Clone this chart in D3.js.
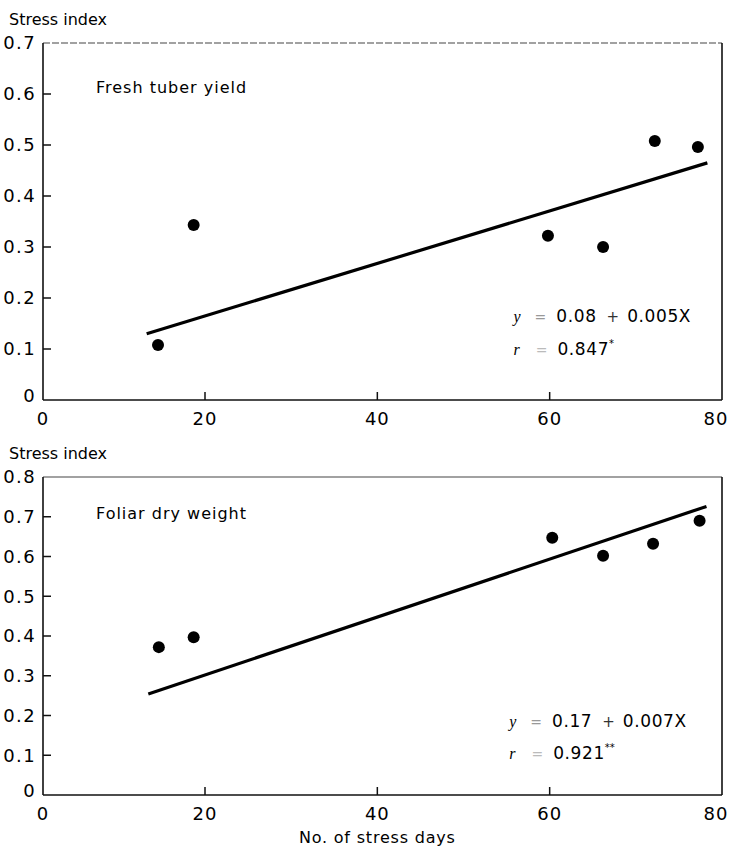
<!DOCTYPE html>
<html>
<head>
<meta charset="utf-8">
<script src="https://cdnjs.cloudflare.com/ajax/libs/d3/7.8.5/d3.min.js"></script>
<style>
  body { margin: 0; background: #fff; }
  svg { display: block; }
  text { font-family: "DejaVu Sans", sans-serif; fill: #000; }
</style>
</head>
<body>
<svg id="chart" width="729" height="849"></svg>
<script>
// ---- data ----
var x_ticks = [0, 20, 40, 60, 80];

var tuber_days = [14.2, 18.6, 59.8, 66.2, 72.2, 77.2];
var tuber_index = [0.108, 0.343, 0.322, 0.300, 0.508, 0.496];
var tuber_fit_days = [12.8, 78.3];
var tuber_fit_index = [0.13, 0.465];
var tuber_ticks = [0, 0.1, 0.2, 0.3, 0.4, 0.5, 0.6, 0.7];

var foliar_days = [14.3, 18.6, 60.3, 66.2, 72.0, 77.4];
var foliar_index = [0.372, 0.397, 0.647, 0.602, 0.632, 0.690];
var foliar_fit_days = [13.0, 78.2];
var foliar_fit_index = [0.254, 0.726];
var foliar_ticks = [0, 0.1, 0.2, 0.3, 0.4, 0.5, 0.6, 0.7, 0.8];

var svg = d3.select("#chart");

// scanned axis is slightly uneven, so the scale is piecewise
var x = d3.scaleLinear().domain([0, 20, 80]).range([43, 205, 722]);

function draw_panel(opt) {
    var y = d3.scaleLinear().domain([0, opt.y_max]).range([opt.bottom, opt.top]);
    var g = svg.append("g");

    // axis title
    g.append("text")
        .attr("x", 9)
        .attr("y", opt.top - 18)
        .attr("font-size", 16)
        .text("Stress index");

    // frame
    g.append("line")
        .attr("x1", x(0)).attr("x2", x(80))
        .attr("y1", y(opt.y_max)).attr("y2", y(opt.y_max))
        .attr("stroke", "#444").attr("stroke-width", 1.2)
        .attr("stroke-dasharray", opt.dash_top ? "7,2" : null);
    g.append("line")
        .attr("x1", x(80)).attr("x2", x(80))
        .attr("y1", y(opt.y_max)).attr("y2", y(0))
        .attr("stroke", "#111").attr("stroke-width", 1.6);
    g.append("line")
        .attr("x1", x(0)).attr("x2", x(0))
        .attr("y1", y(opt.y_max)).attr("y2", y(0))
        .attr("stroke", "#111").attr("stroke-width", 1.6);
    g.append("line")
        .attr("x1", x(0)).attr("x2", x(80))
        .attr("y1", y(0)).attr("y2", y(0))
        .attr("stroke", "#111").attr("stroke-width", 1.6);

    // y ticks (inward)
    var inner_y = opt.ticks.filter(function (d) { return d > 0 && d < opt.y_max; });
    g.selectAll(".ytick").data(inner_y).enter().append("line")
        .attr("x1", x(0)).attr("x2", x(0) + 8)
        .attr("y1", function (d) { return y(d); })
        .attr("y2", function (d) { return y(d); })
        .attr("stroke", "#111").attr("stroke-width", 1.5);

    g.selectAll(".ylab").data(opt.ticks).enter().append("text")
        .attr("x", 36)
        .attr("y", function (d) { return y(d) - (d === 0 ? 4 : 0); })
        .attr("dy", "0.36em")
        .attr("text-anchor", "end")
        .attr("font-size", 18)
        .attr("letter-spacing", 1.4)
        .text(function (d) { return d === 0 ? "0" : d3.format(".1f")(d); });

    // x ticks (inward)
    g.selectAll(".xtick").data(x_ticks.filter(function (d) { return d > 0 && d < 80; }))
        .enter().append("line")
        .attr("x1", function (d) { return x(d); })
        .attr("x2", function (d) { return x(d); })
        .attr("y1", y(0)).attr("y2", y(0) - 8)
        .attr("stroke", "#111").attr("stroke-width", 1.5);

    g.selectAll(".xlab").data(x_ticks).enter().append("text")
        .attr("x", function (d) { return x(d) - (d === 80 ? 6 : 0); })
        .attr("y", y(0) + 25)
        .attr("text-anchor", "middle")
        .attr("font-size", 18)
        .attr("letter-spacing", 1)
        .text(function (d) { return d; });

    // panel label
    g.append("text")
        .attr("x", 96)
        .attr("y", opt.top + opt.label_dy)
        .attr("font-size", 16)
        .attr("letter-spacing", 1)
        .text(opt.label);

    // regression line
    var fit = opt.fit_days.map(function (d, i) { return [d, opt.fit_index[i]]; });
    g.append("path")
        .datum(fit)
        .attr("d", d3.line().x(function (d) { return x(d[0]); }).y(function (d) { return y(d[1]); }))
        .attr("stroke", "#000").attr("stroke-width", 3.2).attr("fill", "none");

    // points
    var pts = opt.days.map(function (d, i) { return [d, opt.index[i]]; });
    g.selectAll(".pt").data(pts).enter().append("circle")
        .attr("cx", function (d) { return x(d[0]); })
        .attr("cy", function (d) { return y(d[1]); })
        .attr("r", 6)
        .attr("fill", "#000");

    // equation
    var ex = x(opt.eq_x);
    var e1 = g.append("text").attr("x", ex).attr("y", y(opt.eq_y1)).attr("font-size", 17);
    e1.append("tspan").attr("font-family", "Liberation Serif").attr("font-style", "italic").attr("font-size", 16).text("y");
    e1.append("tspan").attr("dx", 14).attr("fill", "#999").attr("font-size", 14).text("=");
    e1.append("tspan").attr("dx", 10).attr("letter-spacing", 0.6).text(opt.eq_a);
    e1.append("tspan").attr("dx", 10).attr("font-size", 15).attr("fill", "#333").text("+");
    e1.append("tspan").attr("dx", 8).attr("letter-spacing", 0.6).text(opt.eq_b);

    var e2 = g.append("text").attr("x", ex).attr("y", y(opt.eq_y2)).attr("font-size", 17);
    e2.append("tspan").attr("font-family", "Liberation Serif").attr("font-style", "italic").attr("font-size", 16).text("r");
    e2.append("tspan").attr("dx", 16).attr("fill", "#bbb").attr("font-size", 14).text("=");
    e2.append("tspan").attr("dx", 10).attr("letter-spacing", 0.6).text(opt.eq_r);
    e2.append("tspan").attr("dy", -8).attr("font-size", 10).text(opt.stars);
}

draw_panel({
    top: 43, bottom: 400, y_max: 0.7, ticks: tuber_ticks, dash_top: true,
    label: "Fresh tuber yield", label_dy: 50,
    days: tuber_days, index: tuber_index,
    fit_days: tuber_fit_days, fit_index: tuber_fit_index,
    eq_x: 55.8, eq_y1: 0.153, eq_y2: 0.088,
    eq_a: "0.08", eq_b: "0.005X", eq_r: "0.847", stars: "*"
});

draw_panel({
    top: 477, bottom: 795, y_max: 0.8, ticks: foliar_ticks, dash_top: false,
    label: "Foliar dry weight", label_dy: 42,
    days: foliar_days, index: foliar_index,
    fit_days: foliar_fit_days, fit_index: foliar_fit_index,
    eq_x: 55.3, eq_y1: 0.171, eq_y2: 0.091,
    eq_a: "0.17", eq_b: "0.007X", eq_r: "0.921", stars: "**"
});

svg.append("text")
    .attr("x", x(40))
    .attr("y", 843)
    .attr("text-anchor", "middle")
    .attr("font-size", 16)
    .attr("letter-spacing", 0.8)
    .text("No. of stress days");
</script>
</body>
</html>
